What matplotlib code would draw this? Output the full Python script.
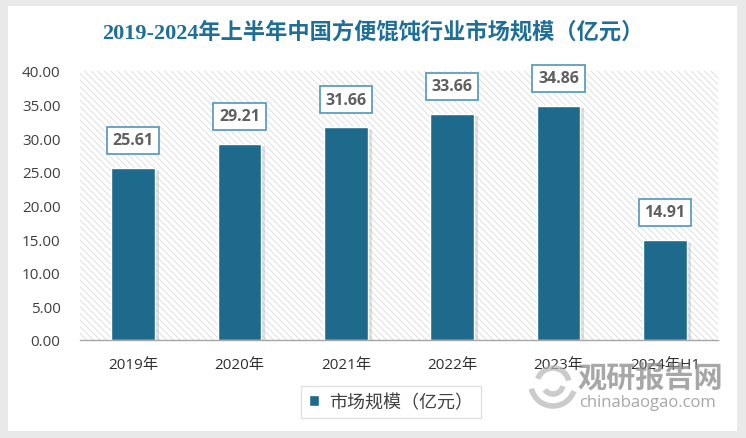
import matplotlib
matplotlib.use('Agg')
import matplotlib.pyplot as plt
import matplotlib.patheffects as pe
from matplotlib.patches import Rectangle, Arc

categories = ['2019年', '2020年', '2021年', '2022年', '2023年', '2024年H1']
values = [25.61, 29.21, 31.66, 33.66, 34.86, 14.91]
yticks = [0, 5, 10, 15, 20, 25, 30, 35, 40]
series_name = '市场规模（亿元）'
title = '2019-2024年上半年中国方便馄饨行业市场规模（亿元）'

plt.rcParams['font.family'] = ['Open Sans', 'Noto Sans CJK SC', 'DejaVu Sans']
plt.rcParams['hatch.linewidth'] = 0.6
plt.rcParams['hatch.color'] = '#dadada'

W, H = 746, 439
fig = plt.figure(figsize=(W / 100, H / 100), dpi=100, facecolor='#e9e9e9')

# white card
fig.patches.append(Rectangle((8 / W, 1 - 432 / H), 729 / W, 425 / H,
                             transform=fig.transFigure, facecolor='white',
                             edgecolor='none', zorder=-5))

ax = fig.add_axes([80 / W, 1 - 341 / H, 638 / W, 269 / H])
ax.set_facecolor('white')
ax.add_patch(Rectangle((0, 0), 1, 1, transform=ax.transAxes, facecolor='white',
                       edgecolor='#dadada', hatch='\\\\\\\\\\', linewidth=0, zorder=0))

x = range(len(categories))
bars = ax.bar(x, values, width=0.41, color='#1e6a8d', edgecolor='white',
              linewidth=1, zorder=3)
for b in bars:
    b.set_path_effects([pe.SimplePatchShadow(offset=(3, -2), shadow_rgbFace='#9a9a9a', alpha=0.3),
                        pe.Normal()])

for i, v in enumerate(values):
    ax.annotate('%.2f' % v, (i, v), xytext=(0, 14), textcoords='offset points',
                ha='center', va='bottom', fontsize=11.5, fontweight='bold', color='#5f5f5f',
                bbox=dict(boxstyle='square,pad=0.35', facecolor='white',
                          edgecolor='#5296b6', linewidth=1.2), zorder=5)

ax.set_xlim(-0.5, len(categories) - 0.5)
ax.set_ylim(0, 40)
ax.set_yticks(yticks)
ax.set_yticklabels(['%.2f' % t for t in yticks], fontsize=11, color='#404040')
ax.set_xticks(list(x))
ax.set_xticklabels(categories, fontsize=11, color='#303030')
ax.tick_params(axis='y', length=0, pad=14)
ax.tick_params(axis='x', length=0, pad=12)
for s in ['top', 'right', 'left']:
    ax.spines[s].set_visible(False)
ax.spines['bottom'].set_color('#a6a6a6')
ax.spines['bottom'].set_linewidth(1)
ax.spines['bottom'].set_zorder(4)

fig.text(0.5, 1 - 33 / H, title, ha='center', va='center', fontsize=16,
         fontweight='bold', color='#1f6e97',
         family=['Liberation Serif', 'Noto Sans CJK SC'])

leg = ax.legend([bars], [series_name], loc='center', bbox_to_anchor=(391 / W, 1 - 403 / H),
                bbox_transform=fig.transFigure, frameon=True, fancybox=False,
                fontsize=13, handlelength=0.55, handleheight=0.55, handletextpad=0.6,
                borderpad=0.4, borderaxespad=0)
leg.get_frame().set_edgecolor('#d9d9d9')
leg.get_frame().set_linewidth(1)
for t in leg.get_texts():
    t.set_color('#404040')
    t.set_family(['Noto Sans CJK SC'])
for h in leg.legend_handles:
    h.set_path_effects([])

# watermark
fig.text(650 / W, 1 - 378 / H, '观研报告网', ha='center', va='center', fontsize=21,
         fontweight='bold', color='#8a8a8a', alpha=0.75, family=['Noto Sans CJK SC'])
fig.text(648 / W, 1 - 403 / H, 'chinabaogao.com', ha='center', va='center', fontsize=12,
         color='#8a8a8a', alpha=0.75)
for r, a1, a2 in [(22, 200, 330), (16, 20, 150), (10, 230, 340)]:
    fig.patches.append(Arc((553 / W, 1 - 385 / H), 2 * r / W, 2 * r / H, theta1=a1, theta2=a2,
                           transform=fig.transFigure, color='#b5b5b5', linewidth=4, alpha=0.7))

fig.savefig('out.png', dpi=100, facecolor=fig.get_facecolor())
